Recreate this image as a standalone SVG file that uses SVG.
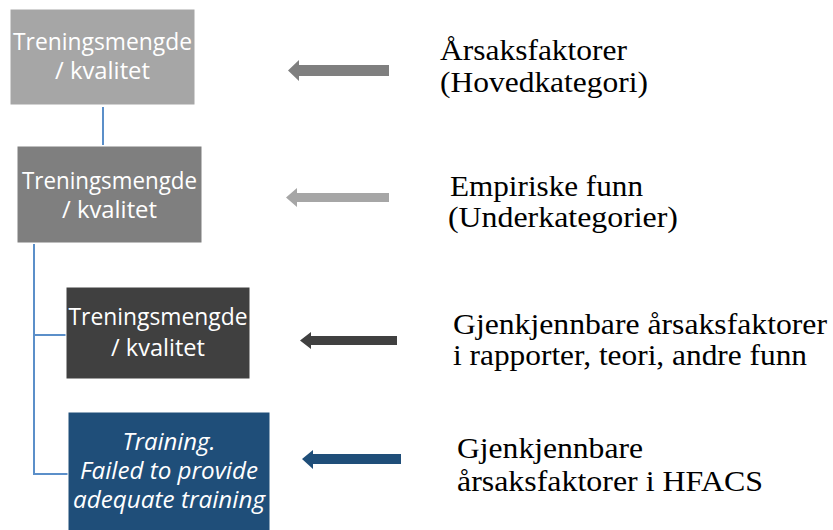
<svg xmlns="http://www.w3.org/2000/svg" width="833" height="530" viewBox="0 0 833 530">
<style>
.box{stroke:#ffffff;stroke-width:1}
.bt{font-family:"Open Sans","Noto Sans",sans-serif;font-size:23px;fill:#ffffff;text-anchor:middle}
.it{font-style:italic}
.lbl{font-family:"Liberation Serif","Times New Roman",serif;font-size:30px;fill:#000000}
.conn{stroke:#5b8fc9;stroke-width:2;fill:none}
</style>
<rect width="833" height="530" fill="#ffffff"/>
<g id="connectors">
<path class="conn" d="M103,107 V145"/>
<path class="conn" d="M34,244 V474 H68 M34,335 H66"/>
</g>
<g id="arrows">
<polygon fill="#7f7f7f" points="288,70.5 299,60 299,65 389,65 389,76 299,76 299,81"/>
<polygon fill="#a6a6a6" points="286,197.5 297,188 297,193 389,193 389,202 297,202 297,207"/>
<polygon fill="#404040" points="300,340.5 311,332 311,336 397,336 397,345 311,345 311,349"/>
<polygon fill="#1f4e79" points="302,459 313,450 313,454 401,454 401,464 313,464 313,469"/>
</g>
<g id="node1">
<rect class="box" x="10" y="9" width="185" height="96" fill="#a6a6a6"/>
<text class="bt" x="102.5" y="50" textLength="179" lengthAdjust="spacingAndGlyphs">Treningsmengde</text>
<text class="bt" x="102.5" y="79" textLength="95" lengthAdjust="spacingAndGlyphs">/ kvalitet</text>
</g>
<g id="node2">
<rect class="box" x="17" y="146" width="185" height="97" fill="#7f7f7f"/>
<text class="bt" x="109.5" y="189" textLength="175" lengthAdjust="spacingAndGlyphs">Treningsmengde</text>
<text class="bt" x="109.5" y="218" textLength="95" lengthAdjust="spacingAndGlyphs">/ kvalitet</text>
</g>
<g id="node3">
<rect class="box" x="66" y="287" width="184" height="92" fill="#404040"/>
<text class="bt" x="158" y="325" textLength="179" lengthAdjust="spacingAndGlyphs">Treningsmengde</text>
<text class="bt" x="158" y="356" textLength="94" lengthAdjust="spacingAndGlyphs">/ kvalitet</text>
</g>
<g id="node4">
<rect class="box" x="68" y="412" width="202" height="125" fill="#1f4e79"/>
<text class="bt it" x="169" y="450" textLength="93" lengthAdjust="spacingAndGlyphs">Training.</text>
<text class="bt it" x="169" y="479" textLength="178" lengthAdjust="spacingAndGlyphs">Failed to provide</text>
<text class="bt it" x="169" y="508" textLength="192" lengthAdjust="spacingAndGlyphs">adequate training</text>
</g>
<g id="label1">
<text class="lbl" x="440" y="60" textLength="187" lengthAdjust="spacingAndGlyphs">Årsaksfaktorer</text>
<text class="lbl" x="440" y="92" textLength="208" lengthAdjust="spacingAndGlyphs">(Hovedkategori)</text>
</g>
<g id="label2">
<text class="lbl" x="450" y="196" textLength="193" lengthAdjust="spacingAndGlyphs">Empiriske funn</text>
<text class="lbl" x="448" y="227" textLength="230" lengthAdjust="spacingAndGlyphs">(Underkategorier)</text>
</g>
<g id="label3">
<text class="lbl" x="453" y="334" textLength="374" lengthAdjust="spacingAndGlyphs">Gjenkjennbare årsaksfaktorer</text>
<text class="lbl" x="453" y="365" textLength="354" lengthAdjust="spacingAndGlyphs">i rapporter, teori, andre funn</text>
</g>
<g id="label4">
<text class="lbl" x="457" y="458" textLength="186" lengthAdjust="spacingAndGlyphs">Gjenkjennbare</text>
<text class="lbl" x="457" y="491" textLength="306" lengthAdjust="spacingAndGlyphs">årsaksfaktorer i HFACS</text>
</g>
</svg>
